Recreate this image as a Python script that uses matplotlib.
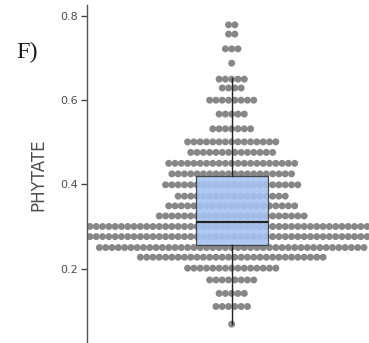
import numpy as np
import matplotlib
matplotlib.use("Agg")
import matplotlib.pyplot as plt

# Binned dot rows (bottom to top): bin centre value and number of dots in the bin
bin_values = [0.068, 0.110, 0.141, 0.173, 0.201, 0.227, 0.250, 0.276, 0.300,
              0.325, 0.349, 0.372, 0.399, 0.425, 0.450, 0.476, 0.501, 0.532,
              0.567, 0.600, 0.629, 0.650, 0.688, 0.722, 0.757, 0.779]
bin_counts = [1, 6, 5, 8, 15, 30, 43, 48, 50,
              24, 21, 18, 22, 20, 21, 14, 15, 7,
              5, 8, 4, 5, 1, 3, 2, 2]

# Box summary
box_q1 = 0.256
box_median = 0.310
box_q3 = 0.420
whisker_low = 0.068
whisker_high = 0.652

y_ticks = [0.2, 0.4, 0.6, 0.8]
y_tick_labels = ["0.2", "0.4", "0.6", "0.8"]
y_label = "PHYTATE"
panel_tag = "F)"

W, H = 369, 343
fig = plt.figure(figsize=(W / 100, H / 100), dpi=100)
left_px, top_px = 86.7, 5.0
ax = fig.add_axes([left_px / W, 0, 1 - left_px / W, 1 - top_px / H])

# x is measured in dot steps, centred on the group
xs, ys = [], []
for v, n in zip(bin_values, bin_counts):
    offs = np.arange(n) - (n - 1) / 2.0
    xs.extend(offs)
    ys.extend([v] * n)
ax.scatter(xs, ys, s=25, color="#878787", edgecolors="none", zorder=2)

stats = [dict(med=box_median, q1=box_q1, q3=box_q3,
              whislo=whisker_low, whishi=whisker_high, fliers=[])]
bp = ax.bxp(stats, positions=[0], widths=11.48, patch_artist=True,
            showcaps=False, showfliers=False)
for b in bp["boxes"]:
    b.set_facecolor("#a6c3f2")
    b.set_alpha(0.9)
    b.set_edgecolor("#3a3a3a")
    b.set_linewidth(0.9)
    b.set_zorder(3)
for w in bp["whiskers"]:
    w.set_color("#222222")
    w.set_linewidth(1.0)
    w.set_zorder(3)
for m in bp["medians"]:
    m.set_color("#222222")
    m.set_linewidth(1.6)
    m.set_zorder(4)

step_px = 6.3
center_px = 231.7
ax.set_xlim(-(center_px - left_px) / step_px, (W - center_px) / step_px)
y_top = 0.8 + (16 - top_px) / 421.0
y_bot = 0.8 - (H - 16) / 421.0
ax.set_ylim(y_bot, y_top)

for s in ["top", "right", "bottom"]:
    ax.spines[s].set_visible(False)
ax.spines["left"].set_color("#555555")
ax.spines["left"].set_linewidth(1.0)
ax.set_xticks([])
ax.set_yticks(y_ticks)
ax.set_yticklabels(y_tick_labels)
ax.tick_params(axis="y", length=4, width=1.0, color="#444444", pad=2.6,
               labelsize=8, labelcolor="#4d4d4d")
for lab in ax.get_yticklabels():
    lab.set_family("DejaVu Sans")

fig.text(38.7 / W, 1 - 174.5 / H, y_label, rotation=90, ha="center",
         va="center", fontsize=12, color="#4d4d4d", family="DejaVu Sans")
fig.text(16 / W, 1 - 58.5 / H, panel_tag, ha="left", va="baseline",
         fontsize=17.5, color="#1a1a1a", family="Liberation Serif")

fig.savefig("out.png", dpi=100)
